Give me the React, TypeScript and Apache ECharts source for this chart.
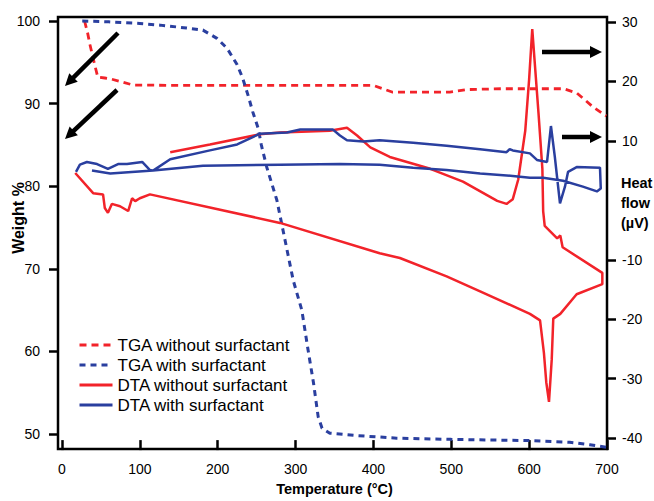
import React, { useEffect, useRef } from "react";
import * as echarts from "echarts";

// ---- data (temperature °C, value) ----
const tgaWithout: number[][] = [
  [29, 100], [33, 98.5], [36, 97.1], [42, 94.7], [46, 93.2], [55, 93.1], [62, 93.0],
  [78, 92.6], [91, 92.25], [150, 92.2], [250, 92.2], [350, 92.2], [400, 92.2],
  [412, 91.8], [424, 91.4], [498, 91.4], [520, 91.7], [566, 91.8], [644, 91.8],
  [661, 91.3], [682, 89.6], [699, 88.5],
];

const tgaWith: number[][] = [
  [26, 100], [60, 99.9], [100, 99.7], [126, 99.5], [160, 99.15], [181, 98.9],
  [199, 97.9], [212, 96.7], [225, 94.7], [232, 93.1], [239, 91.0], [245, 89.0],
  [252, 87.0], [256, 85.0], [263, 82.3], [276, 78.3], [289, 72.3], [297, 68.6],
  [308, 65.0], [316, 60.2], [323, 56.2], [329, 52.1], [334, 50.7], [344, 50.1],
  [380, 49.8], [430, 49.5], [500, 49.35], [601, 49.2], [652, 49.0], [678, 48.7],
  [699, 48.4],
];

const dtaWithout: number[][] = [
  [139, 8.1], [190, 9.4], [254, 11.1], [280, 11.4], [344, 11.7], [366, 12.2],
  [379, 10.9], [396, 8.9], [421, 7.3], [473, 5.3], [515, 3.15], [559, -0.1],
  [571, -0.6], [579, 0.2], [586, 3.5], [595, 11.7], [600, 20.4], [604, 28.8],
  [612, 14.7], [617, 5.3], [618, -1.8], [620, -4.3], [636, -6.4], [640, -5.9],
  [643, -7.9], [694, -12.2], [694, -14.1], [661, -15.8], [640, -19.1],
  [631, -19.9], [629, -26.8], [625.5, -33.9], [622, -30.6], [619, -25.7],
  [614, -20.2], [601, -19.1], [537, -15.3], [494, -12.8], [434, -9.7],
  [408, -8.9], [280, -3.8], [113, 1.0], [100, 0.35], [94, -0.14], [90, 0.35],
  [85, -1.8], [74.5, -1.0], [64, -0.6], [59, -2.1], [55, -1.3], [52.7, 1.0],
  [40, 1.2], [17, 4.6],
];

const dtaWith: number[][] = [
  [18, 4.8], [23, 6.0], [32, 6.45], [45, 6.1], [59, 5.3], [72, 6.1], [83.5, 6.1],
  [103, 6.45], [113, 5.1], [117, 5.0], [139, 6.9], [190, 8.4], [225, 9.4],
  [254, 11.2], [289, 11.4], [306, 11.9], [348, 11.9], [357, 10.9], [366, 10.1],
  [387, 9.9], [408, 10.1], [451, 9.7], [494, 9.2], [537, 8.6], [571, 8.1],
  [575, 8.6], [579, 8.4], [601, 7.9], [610, 6.8], [623, 6.45], [628, 12.5],
  [633, 7.3], [639.6, -0.5], [646, 2.3], [650, 4.8], [661, 5.6], [691, 5.5],
  [692, 2.0], [687, 1.5], [669, 2.3], [643.5, 3.3], [618, 3.8], [601, 3.8],
  [579, 4.1], [537, 4.5], [494, 5.1], [451, 5.5], [408, 6.0], [357, 6.1],
  [280, 6.0], [181, 5.8], [117, 5.0], [62, 4.5], [38.5, 5.0],
];

const seriesNames = [
  "TGA without surfactant",
  "TGA with surfactant",
  "DTA without surfactant",
  "DTA with surfactant",
];
const heatTicks = [-40, -30, -20, -10, 10, 20, 30];

const RED = "#f2232a";
const BLUE = "#2a3f9f";
const FONT = "Liberation Sans, Arial, sans-serif";

function arrow(x1: number, y1: number, x2: number, y2: number) {
  const dx = x2 - x1;
  const dy = y2 - y1;
  const len = Math.sqrt(dx * dx + dy * dy);
  const ux = dx / len;
  const uy = dy / len;
  const hl = 12;
  const hw = 6;
  const bx = x2 - ux * hl;
  const by = y2 - uy * hl;
  return [
    {
      type: "line",
      shape: { x1, y1, x2: bx + ux * 2, y2: by + uy * 2 },
      style: { stroke: "#000", lineWidth: 4.5 },
      z: 100,
    },
    {
      type: "polygon",
      shape: {
        points: [
          [x2, y2],
          [bx - uy * hw, by + ux * hw],
          [bx + uy * hw, by - ux * hw],
        ],
      },
      style: { fill: "#000" },
      z: 100,
    },
  ];
}

export default function App() {
  const ref = useRef<HTMLDivElement>(null);
  useEffect(() => {
    const chart = echarts.init(ref.current!, null, { renderer: "svg" });
    const axisLabelStyle = { color: "#000", fontSize: 14, fontFamily: FONT };
    const option: any = {
      animation: false,
      backgroundColor: "#fff",
      grid: [
        { left: 58, right: 47, top: 17, bottom: 52, show: true, borderColor: "#000", borderWidth: 2.5, backgroundColor: "transparent" },
        { left: 62, right: 47, top: 21, bottom: 67 },
        { left: 62, right: 47, top: 22, bottom: 54 },
      ],
      xAxis: [
        { gridIndex: 0, type: "value", show: false, min: 0, max: 1 },
        { gridIndex: 1, type: "value", show: false, min: 0, max: 700 },
        {
          gridIndex: 2, type: "value", min: 0, max: 700, interval: 100, offset: 2,
          position: "bottom",
          axisLine: { show: false, onZero: false },
          axisTick: { show: true, length: 10, lineStyle: { color: "#000", width: 2.5 } },
          axisLabel: { ...axisLabelStyle, margin: 22 },
          splitLine: { show: false },
          name: "Temperature (°C)",
          nameLocation: "middle",
          nameGap: 40,
          nameTextStyle: { color: "#000", fontSize: 14.5, fontWeight: "bold", fontFamily: FONT },
        },
      ],
      yAxis: [
        { gridIndex: 0, type: "value", show: false, min: 0, max: 1 },
        {
          gridIndex: 1, type: "value", min: 50, max: 100, interval: 10, offset: 4,
          position: "left",
          axisLine: { show: false, onZero: false },
          axisTick: { show: true, length: 9, lineStyle: { color: "#000", width: 2.5 } },
          axisLabel: { ...axisLabelStyle, margin: 18 },
          splitLine: { show: false },
        },
        {
          gridIndex: 2, type: "value", min: -40, max: 30, interval: 10,
          position: "right",
          axisLine: { show: false, onZero: false },
          axisTick: { show: true, length: 9, customValues: heatTicks, lineStyle: { color: "#000", width: 2.5 } },
          axisLabel: { ...axisLabelStyle, margin: 15, customValues: heatTicks, formatter: (v: number) => (v === 0 ? "" : String(v)) },
          splitLine: { show: false },
        },
      ],
      legend: {
        orient: "vertical",
        left: 73,
        top: 330,
        itemWidth: 33,
        itemHeight: 14,
        itemGap: 0,
        data: seriesNames,
        itemStyle: { opacity: 0 },
        lineStyle: { width: 3 },
        textStyle: { color: "#000", fontSize: 17, fontFamily: FONT, lineHeight: 20 },
      },
      series: [
        {
          name: seriesNames[0], type: "line", xAxisIndex: 1, yAxisIndex: 1, data: tgaWithout, clip: false,
          symbol: "none", lineStyle: { color: RED, width: 2.8, type: [7, 5] }, itemStyle: { color: RED }, z: 3,
        },
        {
          name: seriesNames[1], type: "line", xAxisIndex: 1, yAxisIndex: 1, data: tgaWith, clip: false,
          symbol: "none", lineStyle: { color: BLUE, width: 3, type: [6, 5] }, itemStyle: { color: BLUE }, z: 3,
        },
        {
          name: seriesNames[2], type: "line", xAxisIndex: 2, yAxisIndex: 2, data: dtaWithout,
          symbol: "none", lineStyle: { color: RED, width: 2.5 }, itemStyle: { color: RED }, z: 4,
        },
        {
          name: seriesNames[3], type: "line", xAxisIndex: 2, yAxisIndex: 2, data: dtaWith,
          symbol: "none", lineStyle: { color: BLUE, width: 2.5 }, itemStyle: { color: BLUE }, z: 5,
        },
      ],
      graphic: [
        {
          type: "text", x: 18, y: 218, rotation: Math.PI / 2,
          style: { text: "Weight %", fill: "#000", font: `bold 16px ${FONT}`, align: "center", verticalAlign: "middle" },
        },
        {
          type: "text", x: 621, y: 173,
          style: { text: "Heat\nflow\n(µV)", fill: "#000", font: `bold 14.5px ${FONT}`, lineHeight: 20, align: "left", verticalAlign: "top" },
        },
        ...arrow(118, 33, 65, 86),
        ...arrow(117, 90, 65, 139),
        ...arrow(542, 52, 602, 52),
        ...arrow(562, 137, 602, 137),
      ],
    };
    chart.setOption(option);
    return () => chart.dispose();
  }, []);
  return <div ref={ref} style={{ position: "absolute", left: 0, top: 0, width: 654, height: 501 }} />;
}
